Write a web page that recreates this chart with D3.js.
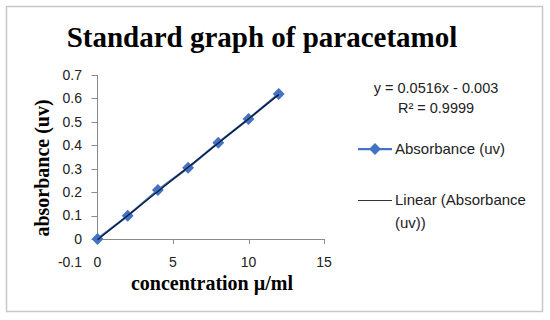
<!DOCTYPE html>
<html><head><meta charset="utf-8">
<script src="https://cdn.jsdelivr.net/npm/d3@7"></script>
<style>body{margin:0;background:#fff}svg{display:block}</style>
</head><body>
<script>
const concentration = [0, 2, 4, 6, 8, 10, 12];
const absorbance = [0, 0.099, 0.209, 0.304, 0.411, 0.512, 0.619];
const xTicks = [0, 5, 10, 15];
const yTicks = [-0.1, 0, 0.1, 0.2, 0.3, 0.4, 0.5, 0.6, 0.7];
const slope = 0.0516, intercept = -0.003;
const equationText = "y = 0.0516x - 0.003";
const r2Text = "R² = 0.9999";
const seriesName = "Absorbance (uv)";
const trendName = ["Linear (Absorbance", "(uv))"];

const W = 550, H = 320;
const svg = d3.select("body").append("svg").attr("width", W).attr("height", H);
svg.append("rect").attr("x", 6.5).attr("y", 6.5).attr("width", 536).attr("height", 305)
  .attr("fill", "#fff").attr("stroke", "#c8c8c8").attr("stroke-width", 1.5);

const x = d3.scaleLinear().domain([0, 15]).range([97.5, 324]);
const y = d3.scaleLinear().domain([-0.1, 0.7]).range([262.4, 75]);
const axisColor = "#8a8a8a";
const sans = "'Liberation Sans', Arial, sans-serif";
const serif = "'Liberation Serif', 'Times New Roman', serif";

// y axis (line from 0 to 0.7)
svg.append("line").attr("x1", x(0)).attr("x2", x(0)).attr("y1", y(0)).attr("y2", y(0.7))
  .attr("stroke", axisColor);
const yAxisG = svg.append("g");
yTicks.forEach(t => {
  if (t >= 0) yAxisG.append("line").attr("x1", x(0) - 6).attr("x2", x(0)).attr("y1", Math.round(y(t)) + 0.5).attr("y2", Math.round(y(t)) + 0.5).attr("stroke", axisColor);
  yAxisG.append("text").attr("x", 82).attr("y", y(t)).attr("dy", "0.35em")
    .attr("text-anchor", "end").attr("font-family", sans).attr("font-size", 14).attr("fill", "#222")
    .text(t);
});
// x axis at y=0
svg.append("line").attr("x1", x(0)).attr("x2", x(15)).attr("y1", Math.round(y(0)) + 0.5).attr("y2", Math.round(y(0)) + 0.5)
  .attr("stroke", axisColor);
xTicks.forEach(t => {
  svg.append("line").attr("x1", Math.round(x(t)) + 0.5).attr("x2", Math.round(x(t)) + 0.5)
    .attr("y1", y(0)).attr("y2", y(0) + 5).attr("stroke", axisColor);
  svg.append("text").attr("x", x(t)).attr("y", y(-0.1)).attr("dy", "0.35em")
    .attr("text-anchor", "middle").attr("font-family", sans).attr("font-size", 14).attr("fill", "#222")
    .text(t);
});

const blue = "#4472C4";
const pts = concentration.map((c, i) => [c, absorbance[i]]);
svg.append("path").datum(pts)
  .attr("d", d3.line().x(d => x(d[0])).y(d => y(d[1])))
  .attr("fill", "none").attr("stroke", blue).attr("stroke-width", 2.25);
const diamond = d3.symbol().type(d3.symbolDiamond2).size(90);
svg.selectAll(".pt").data(pts).join("path")
  .attr("transform", d => `translate(${x(d[0])},${y(d[1])})`)
  .attr("d", diamond).attr("fill", blue);
// trendline
const tl = [0, 12].map(c => [c, slope * c + intercept]);
svg.append("path").datum(tl)
  .attr("d", d3.line().x(d => x(d[0])).y(d => y(d[1])))
  .attr("fill", "none").attr("stroke", "#0d1a33").attr("stroke-width", 1.3);

// titles
svg.append("text").attr("x", 262).attr("y", 47).attr("text-anchor", "middle")
  .attr("font-family", serif).attr("font-weight", "bold").attr("font-size", 29).attr("fill", "#000")
  .text("Standard graph of paracetamol");
svg.append("text").attr("transform", "translate(49,168) rotate(-90)").attr("text-anchor", "middle")
  .attr("font-family", serif).attr("font-weight", "bold").attr("font-size", 20).attr("fill", "#000")
  .text("absorbance (uv)");
svg.append("text").attr("x", 212).attr("y", 290).attr("text-anchor", "middle")
  .attr("font-family", serif).attr("font-weight", "bold").attr("font-size", 20).attr("fill", "#000")
  .text("concentration µ/ml");

// equation
svg.append("text").attr("x", 436).attr("y", 88).attr("dy", "0.35em").attr("text-anchor", "middle")
  .attr("font-family", sans).attr("font-size", 14.5).attr("fill", "#222").text(equationText);
svg.append("text").attr("x", 436).attr("y", 108).attr("dy", "0.35em").attr("text-anchor", "middle")
  .attr("font-family", sans).attr("font-size", 14.5).attr("fill", "#222").text(r2Text);

// legend
svg.append("line").attr("x1", 358).attr("x2", 392).attr("y1", 149).attr("y2", 149)
  .attr("stroke", blue).attr("stroke-width", 2.25);
svg.append("path").attr("transform", "translate(375,149)").attr("d", diamond).attr("fill", blue);
svg.append("text").attr("x", 395).attr("y", 149).attr("dy", "0.35em")
  .attr("font-family", sans).attr("font-size", 15).attr("fill", "#222").text(seriesName);
svg.append("line").attr("x1", 358).attr("x2", 392).attr("y1", 200.5).attr("y2", 200.5)
  .attr("stroke", "#333").attr("stroke-width", 1);
trendName.forEach((t, i) => {
  svg.append("text").attr("x", 395).attr("y", 200 + i * 23).attr("dy", "0.35em")
    .attr("font-family", sans).attr("font-size", 15).attr("fill", "#222").text(t);
});
</script>
</body></html>
